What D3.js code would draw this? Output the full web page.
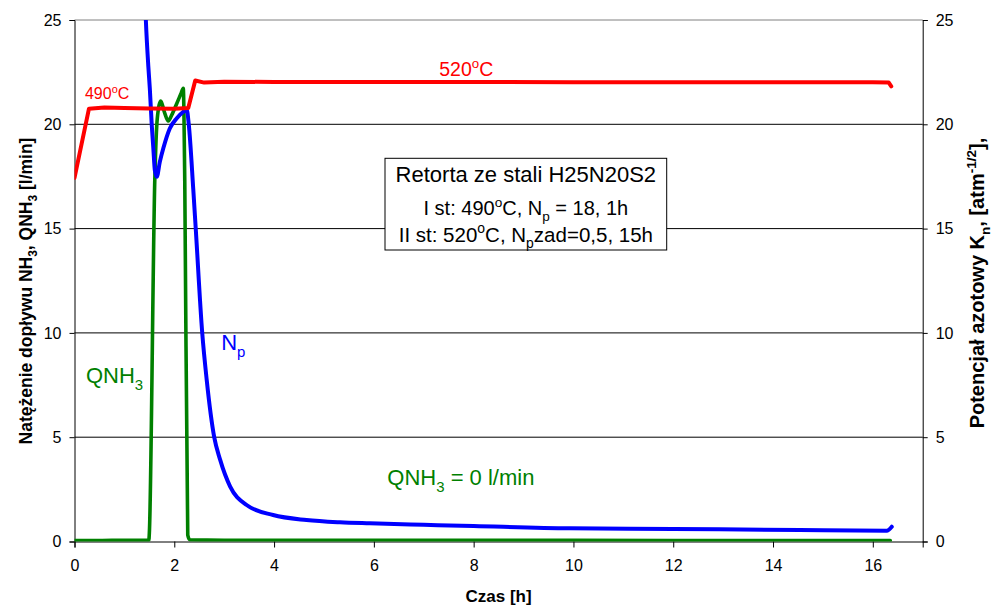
<!DOCTYPE html>
<html>
<head>
<meta charset="utf-8">
<script src="https://cdn.jsdelivr.net/npm/d3@7"></script>
<style>
  html, body { margin: 0; padding: 0; background: #fff; }
  svg { display: block; }
</style>
</head>
<body>
<svg id="chart" width="992" height="606"></svg>
<script>
// Time axis [h] and tick values
const xTicks = [0, 2, 4, 6, 8, 10, 12, 14, 16];
const yTicks = [0, 5, 10, 15, 20, 25];

// Temperature trace (plotted on the left scale)
const tempTime  = [0, 0.29, 0.6, 1.0, 1.5, 2.0, 2.28, 2.42, 2.6, 3.0, 4, 6, 8, 10, 12, 14, 16, 16.32, 16.37];
const tempValue = [17.43, 20.75, 20.8, 20.78, 20.76, 20.75, 20.78, 22.1, 22.0, 22.04, 22.03, 22.03, 22.03, 22.02, 22.02, 22.02, 22.02, 22.0, 21.82];

// Nitriding potential Np
const npTime  = [1.40, 1.43, 1.48, 1.51, 1.55, 1.58, 1.61, 1.65, 1.71, 1.78, 1.91, 2.05, 2.18, 2.25, 2.29, 2.38, 2.43, 2.56, 2.65, 2.80, 2.92, 3.12, 3.45, 3.98, 4.65, 5.32, 5.92, 7, 8, 9.93, 12, 14.54, 16.28, 16.38];
const npValue = [27, 25, 22.76, 21.7, 19.9, 18.85, 17.8, 17.49, 18.2, 18.85, 19.8, 20.29, 20.6, 20.69, 20.0, 16.9, 15.0, 10.0, 7.74, 5.0, 3.91, 2.63, 1.75, 1.27, 1.03, 0.92, 0.87, 0.8, 0.74, 0.63, 0.6, 0.55, 0.52, 0.71];

// Ammonia flow QNH3 [l/min]
const qTime  = [0, 0.5, 1.0, 1.49, 1.50, 1.61, 1.66, 1.73, 1.80, 1.88, 1.95, 2.05, 2.13, 2.18, 2.21, 2.27, 2.31, 3, 5, 8, 12, 16, 16.35];
const qValue = [0.05, 0.05, 0.06, 0.06, 0.4, 17.4, 20.3, 21.12, 20.6, 20.16, 20.45, 21.0, 21.45, 21.73, 17.3, 0.3, 0.08, 0.06, 0.06, 0.06, 0.05, 0.05, 0.05];

const FONT = '"Liberation Sans", Arial, Helvetica, sans-serif';
const RED = '#ff0000', BLUE = '#0000ff', GREEN = '#008000';

const svg = d3.select('#chart').style('font-family', FONT);

const plotL = 74.5, plotR = 922.7, plotT = 20, plotB = 541.5;
const x = d3.scaleLinear().domain([0, 17]).range([plotL, plotR]);
const y = d3.scaleLinear().domain([0, 25]).range([plotB, plotT]);
const y2 = d3.scaleLinear().domain([0, 25]).range([plotB, plotT]);

// horizontal grid (top line lighter)
svg.append('g')
  .selectAll('line')
  .data(yTicks.filter(d => d > 0))
  .join('line')
  .attr('x1', plotL).attr('x2', plotR)
  .attr('y1', d => y(d)).attr('y2', d => y(d))
  .attr('stroke', d => d === 25 ? '#808080' : '#000').attr('stroke-width', 1);

// axes
function styleAxis(g) {
  g.selectAll('path').attr('stroke', '#000');
  g.selectAll('line').attr('stroke', '#000');
  g.selectAll('text').attr('fill', '#000').style('font-family', FONT).style('font-size', '16px');
}
svg.append('g')
  .attr('transform', `translate(0,${plotB})`)
  .call(d3.axisBottom(x).tickValues(xTicks).tickSizeOuter(0).tickSize(6).tickPadding(12))
  .call(styleAxis);
svg.append('g')
  .attr('transform', `translate(${plotL},0)`)
  .call(d3.axisLeft(y).tickValues(yTicks).tickSizeOuter(0).tickSize(5).tickPadding(8))
  .call(styleAxis);
svg.append('g')
  .attr('transform', `translate(${plotR},0)`)
  .call(d3.axisRight(y2).tickValues(yTicks).tickSizeOuter(0).tickSize(5).tickPadding(8))
  .call(styleAxis);

// clip for series
svg.append('clipPath').attr('id', 'plot-clip')
  .append('rect').attr('x', plotL).attr('y', plotT).attr('width', plotR - plotL).attr('height', plotB - plotT);

function series(ts, vs, color, width, curve) {
  const pts = ts.map((t, i) => [t, vs[i]]);
  svg.append('path')
    .datum(pts)
    .attr('clip-path', 'url(#plot-clip)')
    .attr('fill', 'none')
    .attr('stroke', color)
    .attr('stroke-width', width)
    .attr('stroke-linejoin', 'round')
    .attr('stroke-linecap', 'round')
    .attr('d', d3.line().x(d => x(d[0])).y(d => y(d[1])).curve(curve));
}
series(qTime, qValue, GREEN, 3.6, d3.curveMonotoneX);
series(npTime, npValue, BLUE, 4, d3.curveMonotoneX);
series(tempTime, tempValue, RED, 4, d3.curveLinear);

// rich text helper: parts with optional sub / sup
function rich(sel, parts, size) {
  let shift = 0;
  parts.forEach(p => {
    const target = p.sub ? size * 0.3 : p.sup ? -size * 0.4 : 0;
    const ts = sel.append('tspan').text(p.t).attr('dy', target - shift);
    if (p.sub || p.sup) ts.style('font-size', (size * 0.68) + 'px');
    shift = target;
  });
  return sel;
}
function label(px, py, parts, size, color, opts = {}) {
  const t = svg.append('text')
    .attr('x', px).attr('y', py)
    .attr('fill', color)
    .attr('text-anchor', opts.anchor || 'start')
    .style('font-size', size + 'px')
    .style('font-weight', opts.bold ? 'bold' : 'normal');
  if (opts.rotate) t.attr('transform', `rotate(${opts.rotate},${px},${py})`);
  return rich(t, parts, size);
}

// series labels
label(x(0.21), y(21.2), [{t: '490'}, {t: 'o', sup: true}, {t: 'C'}], 16, RED);
label(x(7.31), y(22.31), [{t: '520'}, {t: 'o', sup: true}, {t: 'C'}], 19.5, RED);
label(x(2.94), y(9.18), [{t: 'N'}, {t: 'p', sub: true}], 22, BLUE);
label(x(0.23), y(7.58), [{t: 'QNH'}, {t: '3', sub: true}], 22, GREEN);
label(x(6.27), y(2.71), [{t: 'QNH'}, {t: '3', sub: true}, {t: ' = 0 l/min'}], 22, GREEN);

// annotation box
const bx0 = 385, bx1 = 666.7, by0 = 158.3, by1 = 250;
svg.append('rect')
  .attr('x', bx0).attr('y', by0).attr('width', bx1 - bx0).attr('height', by1 - by0)
  .attr('fill', '#fff').attr('stroke', '#000').attr('stroke-width', 1);
const bc = (bx0 + bx1) / 2;
label(bc, 181.7, [{t: 'Retorta ze stali H25N20S2'}], 22, '#000', {anchor: 'middle'});
label(bc, 215, [{t: 'I st: 490'}, {t: 'o', sup: true}, {t: 'C, N'}, {t: 'p', sub: true}, {t: ' = 18, 1h'}], 20, '#000', {anchor: 'middle'});
label(bc, 241.5, [{t: 'II st: 520'}, {t: 'o', sup: true}, {t: 'C, N'}, {t: 'p', sub: true}, {t: 'zad=0,5, 15h'}], 20.5, '#000', {anchor: 'middle'});

// axis titles
label((plotL + plotR) / 2, 602, [{t: 'Czas [h]'}], 17, '#000', {anchor: 'middle', bold: true});
label(31.5, 291, [{t: 'Natężenie dopływu NH'}, {t: '3', sub: true}, {t: ', QNH'}, {t: '3', sub: true}, {t: ' [l/min]'}], 17.5, '#000', {anchor: 'middle', bold: true, rotate: -90});
label(984, 283, [{t: 'Potencjał azotowy K'}, {t: 'n', sub: true}, {t: ', [atm'}, {t: '-1/2', sup: true}, {t: '],'}], 20, '#000', {anchor: 'middle', bold: true, rotate: -90});
</script>
</body>
</html>
